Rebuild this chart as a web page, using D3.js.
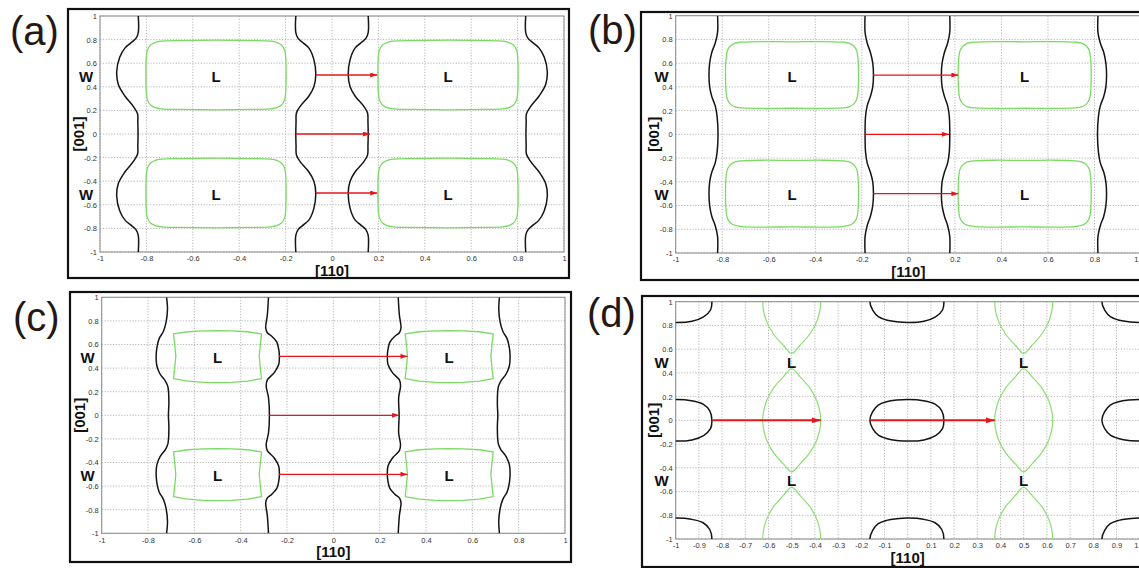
<!DOCTYPE html>
<html>
<head>
<meta charset="utf-8">
<script src="https://cdn.jsdelivr.net/npm/d3@7"></script>
<style>
body { margin: 0; background: #fff; }
svg { display: block; font-family: "Liberation Sans", Arial, sans-serif; }
</style>
</head>
<body>
<svg width="1139" height="568"></svg>
<script>
// ---- data ----
var panelNames = ["(a)", "(b)", "(c)", "(d)"];
var xTicksCoarse = [-1, -0.8, -0.6, -0.4, -0.2, 0, 0.2, 0.4, 0.6, 0.8, 1];
var xTicksFine = [-1, -0.9, -0.8, -0.7, -0.6, -0.5, -0.4, -0.3, -0.2, -0.1, 0, 0.1, 0.2, 0.3, 0.4, 0.5, 0.6, 0.7, 0.8, 0.9, 1];
var yTicks = [-1, -0.8, -0.6, -0.4, -0.2, 0, 0.2, 0.4, 0.6, 0.8, 1];
var wLabelY = [0.5, -0.5];
var lLabelPos = [[-0.5, 0.5], [0.5, 0.5], [-0.5, -0.5], [0.5, -0.5]];
var pocketCenters = [[-0.5, 0.5], [0.5, 0.5], [-0.5, -0.5], [0.5, -0.5]];

// panel (a): black walls, green L pocket outline (relative to centre), red arrows [x1, x2, y]
var wallsA = [
  [[-0.835,1],[-0.835,0.86],[-0.845,0.81],[-0.868,0.77],[-0.892,0.73],[-0.915,0.65],[-0.928,0.53],[-0.921,0.42],[-0.892,0.32],[-0.855,0.23],[-0.838,0.17],[-0.837,0.1],[-0.836,0],[-0.837,-0.1],[-0.838,-0.17],[-0.855,-0.23],[-0.892,-0.32],[-0.921,-0.42],[-0.928,-0.53],[-0.915,-0.65],[-0.892,-0.73],[-0.868,-0.77],[-0.845,-0.81],[-0.835,-0.86],[-0.835,-1]],
  [[-0.156,1],[-0.156,0.86],[-0.146,0.81],[-0.123,0.77],[-0.1,0.73],[-0.078,0.63],[-0.07,0.5],[-0.078,0.4],[-0.1,0.32],[-0.135,0.24],[-0.153,0.18],[-0.155,0.1],[-0.156,0],[-0.155,-0.1],[-0.153,-0.18],[-0.135,-0.24],[-0.1,-0.32],[-0.078,-0.4],[-0.07,-0.5],[-0.078,-0.63],[-0.1,-0.73],[-0.123,-0.77],[-0.146,-0.81],[-0.156,-0.86],[-0.156,-1]],
  [[0.156,1],[0.156,0.86],[0.146,0.81],[0.123,0.77],[0.1,0.73],[0.078,0.63],[0.07,0.5],[0.078,0.4],[0.1,0.32],[0.135,0.24],[0.153,0.18],[0.155,0.1],[0.156,0],[0.155,-0.1],[0.153,-0.18],[0.135,-0.24],[0.1,-0.32],[0.078,-0.4],[0.07,-0.5],[0.078,-0.63],[0.1,-0.73],[0.123,-0.77],[0.146,-0.81],[0.156,-0.86],[0.156,-1]],
  [[0.835,1],[0.835,0.86],[0.845,0.81],[0.868,0.77],[0.892,0.73],[0.915,0.65],[0.928,0.53],[0.921,0.42],[0.892,0.32],[0.855,0.23],[0.838,0.17],[0.837,0.1],[0.836,0],[0.837,-0.1],[0.838,-0.17],[0.855,-0.23],[0.892,-0.32],[0.921,-0.42],[0.928,-0.53],[0.915,-0.65],[0.892,-0.73],[0.868,-0.77],[0.845,-0.81],[0.835,-0.86],[0.835,-1]]
];
var pocketA = [[-0.3,0.16],[-0.302,0],[-0.3,-0.16],[-0.295,-0.215],[-0.283,-0.252],[-0.262,-0.277],[-0.235,-0.287],[-0.15,-0.292],[0,-0.295],[0.15,-0.292],[0.235,-0.287],[0.262,-0.277],[0.283,-0.252],[0.295,-0.215],[0.3,-0.16],[0.302,0],[0.3,0.16],[0.295,0.215],[0.283,0.252],[0.262,0.277],[0.235,0.287],[0.15,0.292],[0,0.295],[-0.15,0.292],[-0.235,0.287],[-0.262,0.277],[-0.283,0.252],[-0.295,0.215]];
var arrowsA = [[-0.07, 0.195, 0.5], [-0.156, 0.164, 0], [-0.07, 0.195, -0.5]];

// panel (b)
var wallsB = [
  [[-0.82,1],[-0.82,0.86],[-0.83,0.77],[-0.845,0.69],[-0.854,0.6],[-0.857,0.5],[-0.854,0.4],[-0.845,0.32],[-0.83,0.24],[-0.822,0.15],[-0.818,0],[-0.822,-0.15],[-0.83,-0.24],[-0.845,-0.32],[-0.854,-0.4],[-0.857,-0.5],[-0.854,-0.6],[-0.845,-0.69],[-0.83,-0.77],[-0.82,-0.86],[-0.82,-1]],
  [[-0.186,1],[-0.186,0.86],[-0.177,0.77],[-0.163,0.69],[-0.153,0.6],[-0.15,0.5],[-0.153,0.4],[-0.163,0.32],[-0.177,0.24],[-0.184,0.15],[-0.186,0],[-0.184,-0.15],[-0.177,-0.24],[-0.163,-0.32],[-0.153,-0.4],[-0.15,-0.5],[-0.153,-0.6],[-0.163,-0.69],[-0.177,-0.77],[-0.186,-0.86],[-0.186,-1]],
  [[0.178,1],[0.178,0.86],[0.169,0.77],[0.155,0.69],[0.145,0.6],[0.142,0.5],[0.145,0.4],[0.155,0.32],[0.169,0.24],[0.176,0.15],[0.178,0],[0.176,-0.15],[0.169,-0.24],[0.155,-0.32],[0.145,-0.4],[0.142,-0.5],[0.145,-0.6],[0.155,-0.69],[0.169,-0.77],[0.178,-0.86],[0.178,-1]],
  [[0.815,1],[0.815,0.86],[0.825,0.77],[0.84,0.69],[0.849,0.6],[0.852,0.5],[0.849,0.4],[0.84,0.32],[0.825,0.24],[0.817,0.15],[0.813,0],[0.817,-0.15],[0.825,-0.24],[0.84,-0.32],[0.849,-0.4],[0.852,-0.5],[0.849,-0.6],[0.84,-0.69],[0.825,-0.77],[0.815,-0.86],[0.815,-1]]
];
var pocketB = [[-0.283,0.15],[-0.286,0],[-0.283,-0.15],[-0.278,-0.205],[-0.265,-0.245],[-0.245,-0.268],[-0.215,-0.277],[-0.12,-0.282],[0,-0.28],[0.12,-0.282],[0.215,-0.277],[0.245,-0.268],[0.265,-0.245],[0.278,-0.205],[0.283,-0.15],[0.286,0],[0.283,0.15],[0.278,0.205],[0.265,0.245],[0.245,0.268],[0.215,0.277],[0.12,0.282],[0,0.28],[-0.12,0.282],[-0.215,0.277],[-0.245,0.268],[-0.265,0.245],[-0.278,0.205]];
var arrowsB = [[-0.151, 0.215, 0.5], [-0.186, 0.175, 0], [-0.151, 0.215, -0.5]];

// panel (c)
var wallsC = [
  [[-0.72,1],[-0.716,0.9],[-0.722,0.79],[-0.734,0.71],[-0.752,0.65],[-0.762,0.57],[-0.765,0.5],[-0.762,0.42],[-0.748,0.35],[-0.725,0.29],[-0.714,0.24],[-0.71,0.1],[-0.712,0],[-0.71,-0.1],[-0.714,-0.24],[-0.725,-0.29],[-0.748,-0.35],[-0.762,-0.42],[-0.765,-0.5],[-0.762,-0.57],[-0.752,-0.65],[-0.734,-0.71],[-0.722,-0.79],[-0.716,-0.9],[-0.72,-1]],
  [[-0.28,1],[-0.285,0.85],[-0.292,0.74],[-0.285,0.7],[-0.266,0.67],[-0.244,0.62],[-0.235,0.55],[-0.233,0.5],[-0.236,0.43],[-0.256,0.36],[-0.285,0.3],[-0.29,0.25],[-0.28,0.15],[-0.276,0],[-0.28,-0.15],[-0.29,-0.25],[-0.285,-0.3],[-0.256,-0.36],[-0.236,-0.43],[-0.233,-0.5],[-0.235,-0.55],[-0.244,-0.62],[-0.266,-0.67],[-0.285,-0.7],[-0.292,-0.74],[-0.285,-0.85],[-0.28,-1]],
  [[0.28,1],[0.285,0.85],[0.292,0.74],[0.285,0.7],[0.266,0.67],[0.244,0.62],[0.235,0.55],[0.233,0.5],[0.236,0.43],[0.256,0.36],[0.285,0.3],[0.29,0.25],[0.282,0.15],[0.284,0],[0.282,-0.15],[0.29,-0.25],[0.285,-0.3],[0.256,-0.36],[0.236,-0.43],[0.233,-0.5],[0.235,-0.55],[0.244,-0.62],[0.266,-0.67],[0.285,-0.7],[0.292,-0.74],[0.285,-0.85],[0.28,-1]],
  [[0.717,1],[0.714,0.9],[0.72,0.79],[0.732,0.71],[0.75,0.65],[0.76,0.57],[0.763,0.5],[0.76,0.42],[0.746,0.35],[0.723,0.29],[0.712,0.24],[0.708,0.1],[0.71,0],[0.708,-0.1],[0.712,-0.24],[0.723,-0.29],[0.746,-0.35],[0.76,-0.42],[0.763,-0.5],[0.76,-0.57],[0.75,-0.65],[0.732,-0.71],[0.72,-0.79],[0.714,-0.9],[0.717,-1]]
];
var pocketC = [[-0.19,0.19],[-0.13,0.208],[-0.06,0.216],[0,0.218],[0.06,0.216],[0.13,0.208],[0.19,0.19],[0.185,0.1],[0.18,0],[0.185,-0.1],[0.19,-0.19],[0.13,-0.21],[0.06,-0.221],[0,-0.223],[-0.06,-0.221],[-0.13,-0.21],[-0.19,-0.19],[-0.185,-0.1],[-0.18,0],[-0.185,0.1]];
var arrowsC = [[-0.235, 0.32, 0.5], [-0.276, 0.284, 0], [-0.235, 0.32, -0.5]];

// panel (d): black W pockets (outline + lattice centres), green lenses, red arrows
var ovalD = [[0.156,0],[0.15,-0.07],[0.12,-0.128],[0.07,-0.165],[0,-0.175],[-0.07,-0.163],[-0.125,-0.127],[-0.151,-0.07],[-0.163,0],[-0.151,0.073],[-0.127,0.129],[-0.091,0.157],[-0.047,0.171],[0.003,0.176],[0.067,0.166],[0.118,0.137],[0.147,0.08]];
var ovalCentersD = [[0,0],[-1,0],[1,0],[0,1],[0,-1],[-1,1],[1,1],[-1,-1],[1,-1]];
var lensD = [[0,0.435],[0.036,0.367],[0.079,0.27],[0.11,0.157],[0.125,0],[0.11,-0.157],[0.079,-0.27],[0.036,-0.367],[0,-0.435],[-0.036,-0.367],[-0.079,-0.27],[-0.11,-0.157],[-0.125,0],[-0.11,0.157],[-0.079,0.27],[-0.036,0.367]];
var lensCentersD = [[-0.5,0],[0.5,0],[-0.5,1],[0.5,1],[-0.5,-1],[0.5,-1]];
var arrowsD = [[-0.84, -0.375, 0], [-0.16, 0.375, 0]];

// ---- layout (pixels) ----
var W = 1139;
var layout = [
  {name: panelNames[0], fx: 68, fy: 9, fw: 501, fh: 269, x0: 100, x1: 564, yTop: 16, yBot: 252, lx: 10, ly: 45, xt: xTicksCoarse, walls: wallsA, pocket: pocketA, sharp: false, arrows: arrowsA, aw: 1.3},
  {name: panelNames[1], fx: 641, fy: 12, fw: 530, fh: 268, x0: 675.7, x1: 1141, yTop: 15.7, yBot: 253, lx: 588, ly: 44, xt: xTicksCoarse, walls: wallsB, pocket: pocketB, sharp: false, arrows: arrowsB, aw: 1.3},
  {name: panelNames[2], fx: 70, fy: 292, fw: 501, fh: 270, x0: 101.7, x1: 565, yTop: 297.3, yBot: 533.3, lx: 13, ly: 331, xt: xTicksCoarse, walls: wallsC, pocket: pocketC, sharp: true, arrows: arrowsC, aw: 1.3},
  {name: panelNames[3], fx: 642, fy: 296, fw: 530, fh: 271, x0: 675.7, x1: 1139.7, yTop: 301.7, yBot: 539, lx: 587, ly: 327, xt: xTicksFine, arrows: arrowsD, aw: 2}
];

var svg = d3.select("svg");
var defs = svg.append("defs");
var fmt = d => String(+d.toFixed(1));

layout.forEach(function(p, i) {
  var x = d3.scaleLinear().domain([-1, 1]).range([p.x0, p.x1]);
  var y = d3.scaleLinear().domain([-1, 1]).range([p.yBot, p.yTop]);
  var g = svg.append("g");

  // outer frame
  g.append("rect").attr("x", p.fx).attr("y", p.fy).attr("width", p.fw).attr("height", p.fh)
    .attr("fill", "#fff").attr("stroke", "#111").attr("stroke-width", 2.2);

  // panel letter
  svg.append("text").attr("x", p.lx).attr("y", p.ly).text(p.name)
    .attr("font-size", 40).attr("fill", "#231815");

  defs.append("clipPath").attr("id", "clip" + i).append("rect")
    .attr("x", p.x0).attr("y", p.yTop).attr("width", p.x1 - p.x0).attr("height", p.yBot - p.yTop);

  // grid
  g.append("g").selectAll("line").data(p.xt).enter().append("line")
    .attr("x1", d => x(d)).attr("x2", d => x(d)).attr("y1", p.yTop).attr("y2", p.yBot)
    .style("stroke", "#b5b5b5").style("stroke-dasharray", "1.2,1.6").style("stroke-width", 1);
  g.append("g").selectAll("line").data(yTicks).enter().append("line")
    .attr("y1", d => y(d)).attr("y2", d => y(d)).attr("x1", p.x0).attr("x2", p.x1)
    .style("stroke", "#b5b5b5").style("stroke-dasharray", "1.2,1.6").style("stroke-width", 1);
  g.append("rect").attr("x", p.x0).attr("y", p.yTop).attr("width", p.x1 - p.x0).attr("height", p.yBot - p.yTop)
    .attr("fill", "none").attr("stroke", "#8a8a8a").attr("stroke-width", 1);

  // axes
  var xa = g.append("g").attr("transform", "translate(0," + p.yBot + ")")
    .call(d3.axisBottom(x).tickValues(p.xt).tickSize(0).tickPadding(4).tickFormat(fmt));
  var ya = g.append("g").attr("transform", "translate(" + p.x0 + ",0)")
    .call(d3.axisLeft(y).tickValues(yTicks).tickSize(0).tickPadding(3).tickFormat(fmt));
  [xa, ya].forEach(function(a) {
    a.select(".domain").remove();
    a.selectAll("text").attr("font-size", 7.5).attr("fill", "#333").attr("font-family", "Liberation Sans, Arial, sans-serif");
  });
  // labels that would fall past the page edge are pulled back inside
  xa.selectAll(".tick").filter(d => x(d) > W - 4).select("text")
    .attr("text-anchor", "end").attr("x", d => W - 1 - x(d));

  // axis titles
  g.append("text").attr("x", x(0)).attr("y", p.yBot + 24).attr("text-anchor", "middle")
    .attr("font-size", 15).attr("font-weight", "bold").attr("fill", "#111").text("[110]");
  g.append("text").attr("transform", "translate(" + (p.x0 - 22) + "," + y(0) + ") rotate(-90)")
    .attr("text-anchor", "middle").attr("dominant-baseline", "central")
    .attr("font-size", 15).attr("font-weight", "bold").attr("fill", "#111").text("[001]");
  g.selectAll("text.w").data(wLabelY).enter().append("text").attr("class", "w")
    .attr("x", p.x0 - 14).attr("y", d => y(d) + 1).attr("text-anchor", "middle").attr("dominant-baseline", "central")
    .attr("font-size", 15).attr("font-weight", "bold").attr("fill", "#111").text("W");

  var plot = g.append("g").attr("clip-path", "url(#clip" + i + ")");
  var line = d3.line().x(d => x(d[0])).y(d => y(d[1])).curve(d3.curveCatmullRom.alpha(0.5));
  var closed = d3.line().x(d => x(d[0])).y(d => y(d[1])).curve(d3.curveCatmullRomClosed.alpha(0.5));
  var poly = d3.line().x(d => x(d[0])).y(d => y(d[1])).curve(d3.curveLinearClosed);

  if (p.walls) {
    var pk = p.sharp ? poly : closed;
    plot.selectAll("path.pk").data(pocketCenters).enter().append("path").attr("class", "pk")
      .attr("d", c => pk(p.pocket.map(q => [c[0] + q[0], c[1] + q[1]])))
      .style("fill", "none").style("stroke", "#7ada62").style("stroke-width", 1.3).style("stroke-linejoin", "round");
    plot.selectAll("path.wall").data(p.walls).enter().append("path").attr("class", "wall")
      .attr("d", line).style("fill", "none").style("stroke", "#141414").style("stroke-width", 1.5);
  } else {
    plot.selectAll("path.lens").data(lensCentersD).enter().append("path").attr("class", "lens")
      .attr("d", c => closed(lensD.map(q => [c[0] + q[0], c[1] + q[1]])))
      .style("fill", "none").style("stroke", "#8ade72").style("stroke-width", 1.2);
    plot.selectAll("path.oval").data(ovalCentersD).enter().append("path").attr("class", "oval")
      .attr("d", c => closed(ovalD.map(q => [c[0] + q[0], c[1] + q[1]])))
      .style("fill", "none").style("stroke", "#141414").style("stroke-width", 1.5);
  }

  // arrows
  var mw = p.aw > 1.5 ? 9 : 7, mh = p.aw > 1.5 ? 6 : 5;
  defs.append("marker").attr("id", "arr" + i).attr("markerUnits", "userSpaceOnUse")
    .attr("markerWidth", mw).attr("markerHeight", mh).attr("refX", mw).attr("refY", mh / 2).attr("orient", "auto")
    .append("path").attr("d", "M0,0L" + mw + "," + (mh / 2) + "L0," + mh + "Z").attr("fill", "#e8141a");
  g.selectAll("line.arrow").data(p.arrows).enter().append("line").attr("class", "arrow")
    .attr("x1", d => x(d[0])).attr("x2", d => x(d[1])).attr("y1", d => y(d[2])).attr("y2", d => y(d[2]))
    .style("stroke", "#e8141a").style("stroke-width", p.aw).attr("marker-end", "url(#arr" + i + ")");

  // L labels
  g.selectAll("text.l").data(lLabelPos).enter().append("text").attr("class", "l")
    .attr("x", d => x(d[0])).attr("y", d => y(d[1]) + 1).attr("text-anchor", "middle").attr("dominant-baseline", "central")
    .attr("font-size", 15).attr("font-weight", "bold").attr("fill", "#111").text("L");
});
</script>
</body>
</html>
